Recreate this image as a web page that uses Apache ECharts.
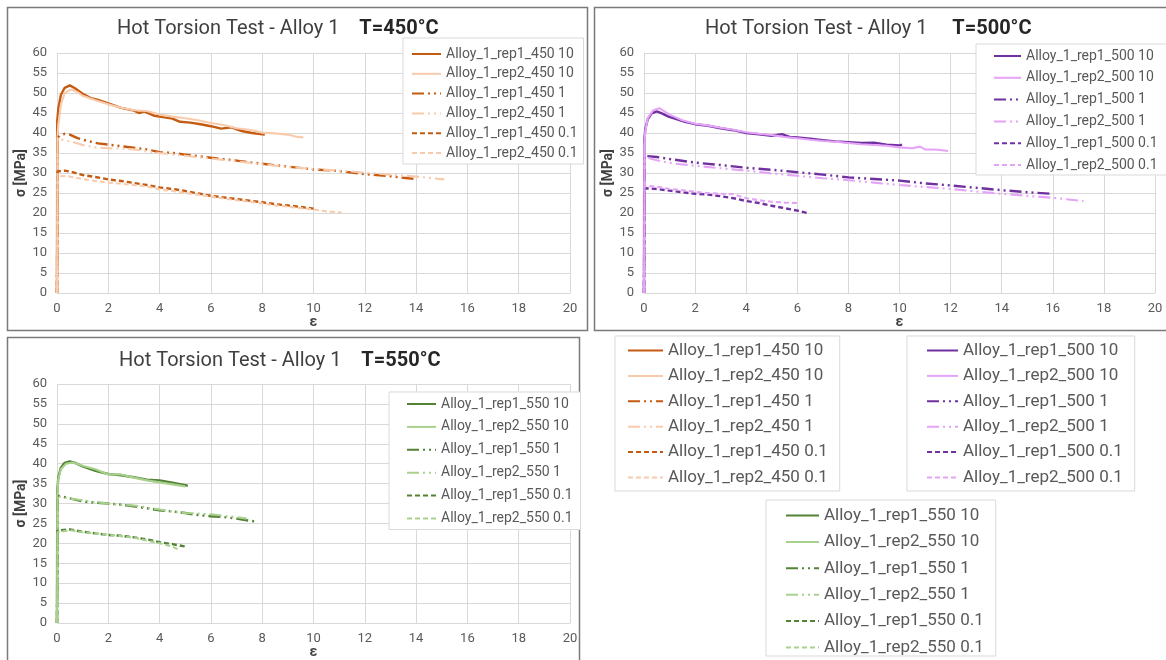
<!DOCTYPE html>
<html><head><meta charset="utf-8">
<script src="https://cdn.jsdelivr.net/npm/echarts@6/dist/echarts.min.js"></script>
<style>html,body{margin:0;padding:0;background:#fff}#c{width:1166px;height:660px}</style>
</head><body><div id="c"></div><script>
// ---------- DATA (strain ε, stress σ [MPa]) ----------
const xTicks = [0,2,4,6,8,10,12,14,16,18,20];
const yTicks = [0,5,10,15,20,25,30,35,40,45,50,55,60];

// T = 450 °C
const a450_rep1_10 = [[0,0],[0.01,43],[0.05,46],[0.15,49.5],[0.3,51.3],[0.5,51.9],[0.7,51.2],[1.0,49.8],[1.3,48.8],[1.6,48.3],[2.0,47.4],[2.5,46.3],[3.0,45.6],[3.2,45.0],[3.4,45.4],[3.8,44.3],[4.2,43.9],[4.5,43.6],[4.8,42.8],[5.2,42.6],[5.6,42.2],[6.0,41.7],[6.4,41.1],[6.8,41.4],[7.2,40.5],[7.6,40.0],[8.1,39.6]];
const a450_rep2_10 = [[0,0],[0.01,38],[0.05,42],[0.15,47],[0.3,50],[0.55,50.9],[0.8,50.2],[1.0,49.3],[1.5,48.2],[2.0,47.2],[2.5,46.3],[3.0,45.7],[3.5,45.5],[4.0,44.6],[4.5,44.1],[5.0,43.7],[5.5,43.2],[6.0,42.5],[6.5,42.0],[7.0,41.2],[7.5,40.8],[8.0,40.1],[8.5,39.9],[9.0,39.6],[9.3,39.1],[9.6,38.9]];
const a450_rep1_1 = [[0,0],[0.02,38.8],[0.1,39.3],[0.3,39.8],[0.5,39.6],[0.8,38.7],[1.2,38.0],[1.6,37.4],[2.0,37.1],[2.5,36.7],[3.0,36.3],[3.5,35.9],[4.0,35.2],[4.5,35.0],[5.0,34.6],[6.0,33.8],[7.0,33.1],[8.0,32.3],[9.0,31.6],[10.0,30.9],[11.0,30.5],[12.0,29.7],[13.0,29.2],[13.5,28.8],[14.0,28.5]];
const a450_rep2_1 = [[0,0],[0.02,38],[0.2,38.3],[0.6,37.8],[1.0,37.0],[1.5,36.4],[2.0,36.2],[2.5,36.1],[3.0,35.9],[4.0,35.0],[5.0,34.3],[6.0,33.6],[7.0,32.9],[8.0,32.2],[9.0,31.5],[10.0,31.0],[11.0,30.6],[12.0,30.1],[13.0,29.6],[14.0,29.1],[15.1,28.4]];
const a450_rep1_01 = [[0,0],[0.02,30.4],[0.3,30.6],[0.6,30.2],[1.0,29.5],[1.5,29.0],[2.0,28.4],[2.5,28.0],[3.0,27.5],[3.5,27.0],[4.0,26.4],[4.5,26.0],[5.0,25.5],[5.5,24.9],[6.0,24.3],[6.5,23.9],[7.0,23.5],[7.5,23.1],[8.0,22.7],[8.5,22.2],[9.0,21.9],[9.5,21.5],[10.0,21.1]];
const a450_rep2_01 = [[0,0],[0.02,29.3],[0.5,29.1],[1.0,28.5],[1.5,28.0],[2.0,27.6],[2.5,27.3],[3.0,27.0],[3.5,26.6],[4.0,25.9],[4.5,25.5],[5.0,25.0],[5.5,24.6],[6.0,24.1],[6.5,23.6],[7.0,23.2],[7.5,22.8],[8.0,22.4],[8.5,21.9],[9.0,21.6],[9.5,21.2],[10.0,20.9],[10.5,20.4],[11.1,20.1]];

// T = 500 °C
const a500_rep1_10 = [[0,0],[0.01,38],[0.05,41],[0.15,43.5],[0.3,44.9],[0.5,45.4],[0.7,44.9],[0.96,44.1],[1.3,43.4],[1.6,42.8],[2.0,42.2],[2.5,41.8],[3.0,41.2],[3.5,40.7],[4.0,40.0],[4.5,39.7],[5.0,39.3],[5.4,39.7],[5.7,39.0],[6.0,38.9],[6.5,38.6],[7.0,38.2],[7.5,37.9],[8.0,37.7],[8.5,37.5],[9.0,37.6],[9.5,37.1],[10.0,36.9],[10.1,37.1]];
const a500_rep2_10 = [[0,0],[0.01,37],[0.05,40.5],[0.15,43.8],[0.35,45.6],[0.6,46.2],[0.8,45.4],[1.0,44.6],[1.5,43.2],[2.0,42.3],[2.5,41.9],[3.0,41.3],[3.5,40.8],[4.0,40.2],[4.5,39.8],[5.0,39.5],[5.5,39.0],[6.0,38.7],[6.5,38.3],[7.0,38.0],[7.5,37.8],[8.0,37.5],[8.5,37.2],[9.0,37.0],[9.5,36.8],[10.0,36.4],[10.5,36.2],[10.8,36.6],[11.0,35.9],[11.5,35.8],[11.9,35.5]];
const a500_rep1_1 = [[0,0],[0.02,34.3],[0.5,34.0],[1.0,33.5],[2.0,32.6],[3.0,32.0],[4.0,31.3],[5.0,30.8],[6.0,30.2],[7.0,29.6],[8.0,28.9],[9.0,28.5],[10.0,28.1],[11.0,27.4],[12.0,26.9],[13.0,26.3],[14.0,25.7],[15.0,25.2],[16.0,24.8]];
const a500_rep2_1 = [[0,0],[0.02,34.0],[0.5,33.2],[1.0,32.5],[2.0,31.8],[3.0,31.2],[4.0,30.6],[5.0,29.9],[6.0,29.3],[7.0,28.7],[8.0,28.2],[9.0,27.6],[10.0,27.0],[11.0,26.5],[12.0,26.0],[13.0,25.4],[14.0,24.8],[15.0,24.3],[16.0,23.8],[17.2,23.0]];
const a500_rep1_01 = [[0,0],[0.02,26.2],[0.5,26.0],[1.0,25.6],[1.5,25.2],[2.0,24.8],[2.5,24.6],[3.0,24.2],[3.5,23.7],[4.0,23.0],[4.5,22.5],[5.0,21.8],[5.5,21.2],[6.0,20.6],[6.4,20.0]];
const a500_rep2_01 = [[0,0],[0.02,26.8],[0.5,26.6],[1.0,26.0],[1.5,25.7],[2.0,25.3],[2.5,25.0],[3.0,24.8],[3.5,24.7],[4.0,23.7],[4.5,23.2],[5.0,22.8],[5.5,22.6],[6.0,22.5]];

// T = 550 °C
const a550_rep1_10 = [[0,0],[0.01,33],[0.05,36.5],[0.15,39.0],[0.3,40.2],[0.5,40.6],[0.7,40.2],[1.0,39.3],[1.5,38.2],[2.0,37.4],[2.5,37.1],[3.0,36.6],[3.5,36.0],[4.0,35.8],[4.5,35.2],[5.0,34.6],[5.1,34.4]];
const a550_rep2_10 = [[0,0],[0.01,32],[0.05,36],[0.15,38.6],[0.35,40.0],[0.6,40.3],[0.8,39.9],[1.0,39.5],[1.5,38.6],[2.0,37.3],[2.5,37.3],[3.0,36.5],[3.5,35.8],[4.0,35.3],[4.5,34.8],[5.0,34.3]];
const a550_rep1_1 = [[0,0],[0.02,32.0],[0.5,31.3],[1.0,30.5],[1.5,30.2],[2.0,30.0],[2.5,29.7],[3.0,29.3],[3.5,28.8],[4.0,28.3],[4.5,28.0],[5.0,27.6],[5.5,27.1],[6.0,26.8],[6.5,26.6],[7.0,26.2],[7.7,25.5]];
const a550_rep2_1 = [[0,0],[0.02,31.8],[0.5,31.2],[1.0,30.8],[1.5,30.3],[2.0,30.0],[2.5,29.6],[3.0,29.5],[3.5,29.0],[4.0,28.5],[4.5,28.0],[5.0,27.6],[5.5,27.5],[6.0,27.3],[6.5,26.9],[7.0,26.6],[7.4,26.2]];
const a550_rep1_01 = [[0,0],[0.02,23.2],[0.5,23.5],[1.0,22.9],[1.5,22.5],[2.0,22.1],[2.5,21.9],[3.0,21.5],[3.5,21.0],[4.0,20.3],[4.5,19.8],[5.0,19.2]];
const a550_rep2_01 = [[0,0],[0.02,22.8],[0.5,23.3],[1.0,22.8],[1.5,22.5],[2.0,22.2],[2.5,21.8],[3.0,21.4],[3.5,20.7],[4.0,20.0],[4.5,19.2],[4.8,18.2]];

const temps = ['450','500','550'];
const rates = ['10','1','0.1'];
const seriesData = {
  '450': [a450_rep1_10,a450_rep2_10,a450_rep1_1,a450_rep2_1,a450_rep1_01,a450_rep2_01],
  '500': [a500_rep1_10,a500_rep2_10,a500_rep1_1,a500_rep2_1,a500_rep1_01,a500_rep2_01],
  '550': [a550_rep1_10,a550_rep2_10,a550_rep1_1,a550_rep2_1,a550_rep1_01,a550_rep2_01]
};
// ---------- STYLE ----------
const colors = {
  '450': ['#C55A11','#F8CBAD'],
  '500': ['#7030A0','#E6A4F8'],
  '550': ['#548235','#A9D18E']
};
const dashFor = { '10': 'solid', '1': [12,4,2,4,2,4], '0.1': [5,3] };
const FONT = 'Roboto, "DejaVu Sans", sans-serif';

function names(t){
  const out=[];
  rates.forEach(r=>{ out.push('Alloy_1_rep1_'+t+' '+r); out.push('Alloy_1_rep2_'+t+' '+r); });
  return out;
}

const grids = [
  {left:57, top:53, width:513, height:240},
  {left:644, top:53, width:511, height:240},
  {left:57, top:384, width:513, height:239}
];

const series=[];
temps.forEach((t,gi)=>{
  const nm = names(t);
  seriesData[t].forEach((d,k)=>{
    const rate = rates[Math.floor(k/2)];
    const rep = k%2;
    const col = colors[t][rep];
    series.push({
      type:'line', name:nm[k], xAxisIndex:gi, yAxisIndex:gi, data:d,
      showSymbol:false, symbol:'none', animation:false,
      lineStyle:{color:col, width: rep===0?2.4:2.1, type:dashFor[rate]},
      itemStyle:{color:col}
    });
  });
});

const xAxes = grids.map((g,i)=>({
  type:'value', gridIndex:i, min:0, max:20, interval:2,
  axisLine:{show:true, lineStyle:{color:'#d9d9d9'}}, axisTick:{show:false},
  axisLabel:{color:'#595959', fontSize:13, margin:9, fontFamily:FONT},
  splitLine:{show:true, lineStyle:{color:'#d9d9d9', width:1}},
  name:'ε', nameLocation:'middle', nameGap:22,
  nameTextStyle:{fontWeight:'bold', fontSize:14, color:'#404040', fontFamily:FONT}
}));
const yAxes = grids.map((g,i)=>({
  type:'value', gridIndex:i, min:0, max:60, interval:5,
  axisLine:{show:false}, axisTick:{show:false},
  axisLabel:{color:'#595959', fontSize:13, margin:10, fontFamily:FONT},
  splitLine:{show:true, lineStyle:{color:'#d9d9d9', width:1}},
  name:'σ [MPa]', nameLocation:'middle', nameGap:27,
  nameTextStyle:{fontWeight:'bold', fontSize:14, color:'#404040', fontFamily:FONT}
}));

function legendBox(t, left, top, pad, itemW, itemH, gap, fs){
  return {
    orient:'vertical', left:left, top:top, padding:pad,
    itemWidth:itemW, itemHeight:itemH, itemGap:gap,
    backgroundColor:'#fff', borderColor:'#d9d9d9', borderWidth:1,
    selectedMode:false, itemStyle:{opacity:0},
    textStyle:{fontSize:fs, color:'#595959', fontFamily:FONT},
    data:names(t)
  };
}

const legends = [
  legendBox('450', 403, 38, [9,6,4,8], 29, 14, 5.8, 14),
  legendBox('500', 976, 44, [5,10,3,17], 27, 14, 7.8, 14),
  legendBox('550', 389, 392, [5,8,4,17], 29, 14, 8.9, 14),
  legendBox('450', 615, 336, [6,12,5,12], 35, 16, 8.4, 17),
  legendBox('500', 907, 336, [6,12,5,19], 31, 16, 8.4, 17),
  legendBox('550', 766, 500, [7,12,0,19], 33, 16, 9.4, 17)
];

function title(t, left, top, spaces){
  return {
    left:left, top:top, padding:0,
    text:'{a|Hot Torsion Test - Alloy 1}'+spaces+'{b|T='+t+'°C}',
    textStyle:{fontFamily:FONT, fontWeight:'normal', fontSize:20, rich:{
      a:{fontSize:20, fontWeight:'normal', color:'#404040', fontFamily:FONT},
      b:{fontSize:20, fontWeight:'bold', color:'#262626', fontFamily:FONT}
    }}
  };
}

const borderStyle = {fill:'none', stroke:'#7a7a7a', lineWidth:1.5};
const option = {
  animation:false,
  backgroundColor:'#fff',
  title:[ title('450',117,19,'    '), title('500',705,19,'     '), title('550',119,351,'    ') ],
  grid: grids.map(g=>Object.assign({outerBoundsMode:'none'}, g)),
  xAxis:xAxes, yAxis:yAxes,
  legend:legends,
  series:series,
  graphic:[
    {type:'rect', shape:{x:7.5,y:7.5,width:580,height:323}, style:borderStyle, silent:true},
    {type:'rect', shape:{x:594.5,y:7.5,width:580,height:323}, style:borderStyle, silent:true},
    {type:'rect', shape:{x:7.5,y:337.5,width:572,height:330}, style:borderStyle, silent:true}
  ]
};
const chart = echarts.init(document.getElementById('c'), null, {renderer:'canvas'});
chart.setOption(option);
</script></body></html>
